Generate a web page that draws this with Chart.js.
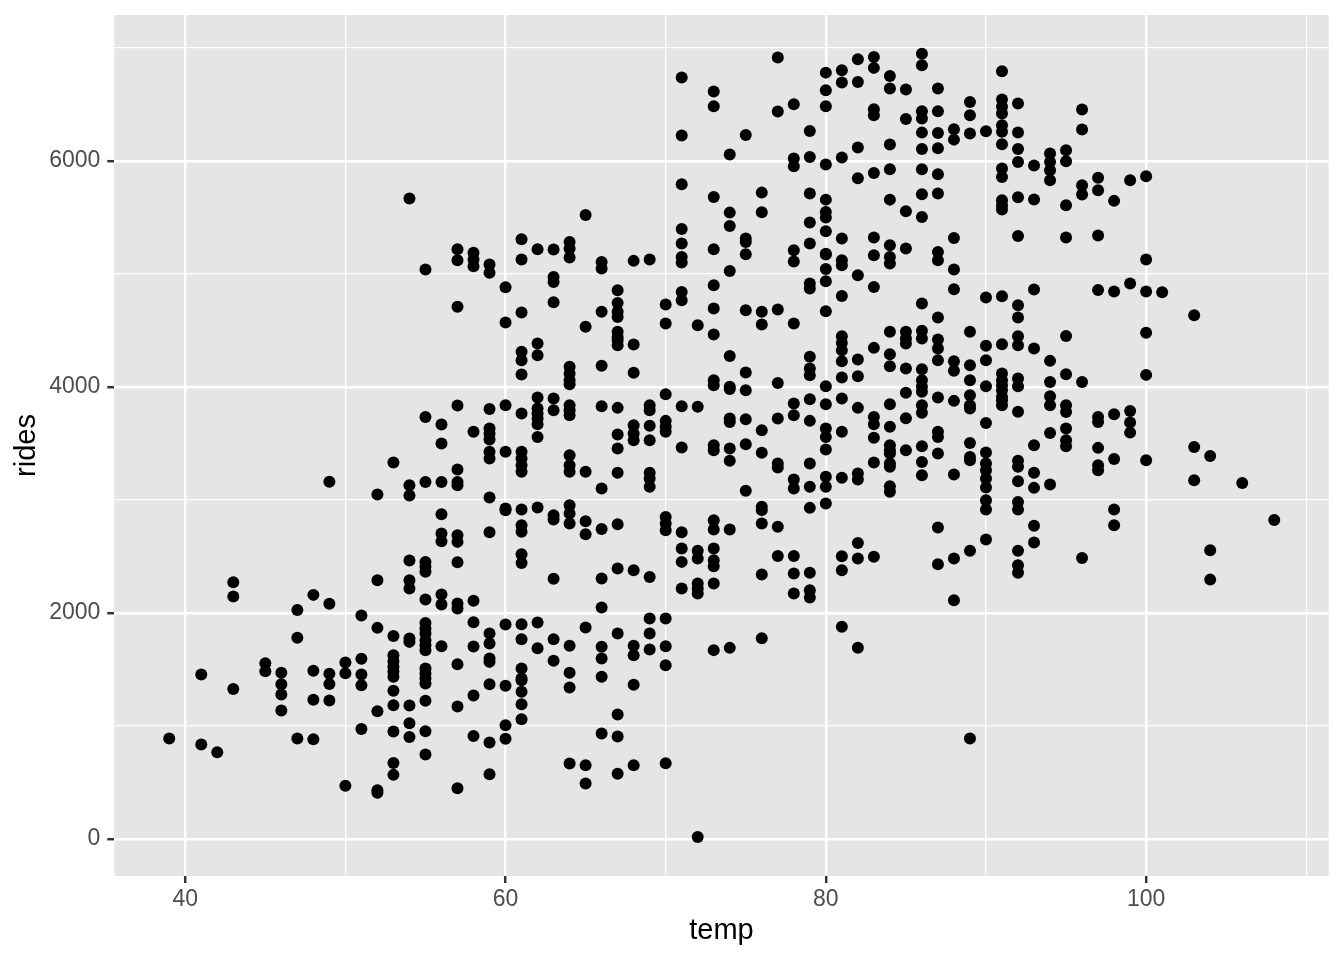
<!DOCTYPE html>
<html><head><meta charset="utf-8">
<style>html,body{margin:0;padding:0;background:#fff}canvas{display:block}</style>
<script src="https://cdn.jsdelivr.net/npm/chart.js@4"></script>
</head><body>
<div style="width:1344px;height:960px"><canvas id="c" width="1344" height="960"></canvas></div>
<script>
const xMajorTicks=[40,60,80,100];
const xMinorTicks=[50,70,90,110];
const yMajorTicks=[0,2000,4000,6000];
const yMinorTicks=[1000,3000,5000,7000];
const r39=[887];
const r41=[1453,834];
const r42=[766];
const r43=[2270,2143,1326];
const r45=[1553,1483];
const r46=[1468,1368,1276,1135];
const r47=[2025,1778,887];
const r48=[2158,1486,1229,881];
const r49=[3160,2079,1459,1370,1223];
const r50=[1559,1465,468];
const r51=[1975,1592,1453,1359,972];
const r52=[3046,2288,1866,1129,430,406];
const r53=[3330,1795,1624,1570,1521,1480,1433,1309,1182,949,671,565];
const r54=[5666,3129,3037,2462,2288,2214,1772,1742,1179,1022,901];
const r55=[5037,3733,3158,2450,2406,2362,2117,1910,1860,1816,1757,1713,1668,1506,1462,1418,1373,1220,952,745];
const r56=[3666,3497,3158,2872,2701,2633,2161,2073,1704];
const r57=[5217,5120,4707,3834,3267,3158,3129,2686,2627,2447,2081,2037,1545,1170,447];
const r58=[5185,5126,5067,3601,2105,1916,1701,1267,910];
const r59=[5082,5008,3804,3630,3586,3533,3424,3365,3020,2713,1816,1727,1595,1565,1368,851,571];
const r60=[4881,4568,3837,3424,2922,2907,1896,1353,1005,884];
const r61=[5306,5126,4657,4309,4235,4108,3763,3424,3365,3306,3247,2913,2775,2716,2518,2441,1899,1766,1506,1418,1403,1300,1191,1058];
const r62=[5217,4382,4279,3905,3807,3763,3719,3669,3556,2931,1913,1686];
const r63=[5214,4972,4928,4748,3896,3793,2863,2825,2300,1766,1574];
const r64=[5282,5223,5144,4176,4117,4058,4023,3837,3792,3748,3394,3306,3247,2952,2878,2789,1707,1468,1338,665];
const r65=[5521,4530,3247,2810,2695,1869,651,488];
const r66=[5105,5046,4663,4185,3828,3099,2742,2303,2046,1698,1595,1433,931];
const r67=[4854,4742,4663,4618,4486,4441,4412,4368,3813,3577,3453,3238,2784,2391,1816,1099,904,574];
const r68=[5114,4374,4123,3660,3586,3527,2376,1707,1624,1362,651];
const r69=[5126,3837,3792,3654,3527,3238,3188,3114,2317,1949,1816,1674];
const r70=[4728,4560,3934,3698,3645,3601,2848,2789,2730,1949,1704,1536,668];
const r71=[6736,6223,5792,5397,5267,5149,5099,4839,4765,3828,3462,2713,2568,2450,2214];
const r72=[4545,3822,2548,2480,2258,2214,2170,16];
const r73=[6612,6482,5680,5217,4899,4692,4462,4058,4014,3483,3438,2819,2736,2568,2465,2412,2258,1669];
const r74=[6055,5541,5423,5025,4273,4000,3980,3719,3689,3453,3344,2736,1689];
const r75=[6229,5311,5282,5173,4677,4126,3970,3713,3492,3079];
const r76=[5718,5544,4663,4551,3615,3415,2937,2908,2790,2338,1775];
const r77=[6913,6435,4683,4034,3719,3321,3285,2760,2503];
const r78=[6500,6019,5951,5208,5108,4559,3851,3748,3179,3099,2503,2347,2170];
const r79=[6264,6034,5710,5453,5267,4913,4869,4265,4161,4102,3890,3698,3321,3114,2928,2353,2199,2135];
const r80=[6780,6624,6482,5966,5656,5547,5497,5376,5178,5170,5043,4934,4668,4005,3846,3630,3556,3444,3203,3114,2966];
const r81=[6801,6692,6028,5311,5120,5075,4804,4447,4388,4323,4226,4082,3896,3601,3194,2500,2376,1875];
const r82=[6898,6698,6117,5845,4987,4241,4093,3813,3232,3179,2618,2480,1690];
const r83=[6919,6822,6456,6403,5892,5320,5164,4883,4344,3733,3669,3548,3329,2495];
const r84=[6751,6639,6143,5925,5656,5252,5149,5090,4486,4288,4182,3846,3645,3483,3438,3409,3321,3291,3120,3070];
const r85=[6630,6370,5553,5223,4486,4427,4382,4161,3946,3722,3438];
const r86=[6948,6845,6438,6373,6249,6105,5925,5704,5503,4736,4495,4427,4155,4058,3999,3955,3837,3769,3474,3335,3217];
const r87=[6639,6438,6246,6111,5881,5710,5193,5120,4613,4418,4338,4235,3905,3601,3556,3409,2754,2430];
const r88=[6279,6187,5317,5037,4863,4226,4141,3875,3223,2480,2111];
const r89=[6521,6403,6241,4486,4191,4058,3925,3837,3807,3503,3379,3350,2548,886];
const r90=[6262,4790,4362,4235,4005,3680,3418,3320,3262,3188,3108,2996,2913,2648];
const r91=[6793,6542,6477,6418,6315,6256,6147,5931,5857,5651,5607,5568,4801,4377,4117,4058,4014,3970,3910,3880,3836];
const r92=[6506,6250,6105,5990,5677,5335,4722,4613,4447,4368,4073,4005,3778,3344,3291,3164,2981,2913,2548,2421,2353];
const r93=[5958,5657,4860,4338,3483,3238,3105,2769,2621];
const r94=[6064,5990,5916,5828,4229,4043,3916,3836,3591,3134];
const r95=[6093,5996,5607,5321,4450,4111,3836,3777,3630,3527,3473];
const r96=[6453,6276,5784,5701,4043,2485];
const r97=[5849,5740,5338,4857,3733,3689,3459,3305,3261];
const r98=[5645,4843,3757,3361,2913,2774];
const r99=[5828,4914,3786,3683,3594];
const r100=[5863,5126,4843,4477,4105,3349];
const r101=[4837];
const r103=[4633,3467,3172];
const r104=[3388,2553,2293];
const r106=[3149];
const r108=[2821];
const temps=[39,41,42,43,45,46,47,48,49,50,51,52,53,54,55,56,57,58,59,60,61,62,63,64,65,66,67,68,69,70,71,72,73,74,75,76,77,78,79,80,81,82,83,84,85,86,87,88,89,90,91,92,93,94,95,96,97,98,99,100,101,103,104,106,108];
const ridesByTemp=[r39,r41,r42,r43,r45,r46,r47,r48,r49,r50,r51,r52,r53,r54,r55,r56,r57,r58,r59,r60,r61,r62,r63,r64,r65,r66,r67,r68,r69,r70,r71,r72,r73,r74,r75,r76,r77,r78,r79,r80,r81,r82,r83,r84,r85,r86,r87,r88,r89,r90,r91,r92,r93,r94,r95,r96,r97,r98,r99,r100,r101,r103,r104,r106,r108];
const points=temps.flatMap((t,i)=>ridesByTemp[i].map(v=>({x:t,y:v})));

const FONT='"Liberation Sans", Arial, sans-serif';
const panelBg={id:'panelBg',beforeDraw(ch){const a=ch.chartArea,c=ch.ctx;c.save();c.fillStyle='#E5E5E5';c.fillRect(a.left,a.top,a.right-a.left,a.bottom-a.top);c.restore();}};
function gridOpts(major){return {
  drawTicks:true,tickLength:7,
  color:'#FFFFFF',
  lineWidth:c=>major.includes(c.tick.value)?2.4:1.2,
  tickColor:c=>major.includes(c.tick.value)?'#333333':'rgba(0,0,0,0)',
  tickWidth:2.5
};}
new Chart(document.getElementById('c'),{
  type:'scatter',
  plugins:[panelBg],
  data:{datasets:[{data:points,backgroundColor:'#000',borderWidth:0,pointRadius:6,pointHoverRadius:6}]},
  options:{
    responsive:false,animation:false,
    layout:{padding:{top:15,right:15.3,left:0,bottom:0}},
    plugins:{legend:{display:false},tooltip:{enabled:false}},
    scales:{
      x:{type:'linear',min:35.57,max:111.4,
        border:{display:false},
        grid:gridOpts(xMajorTicks),
        afterBuildTicks(s){s.ticks=[...xMajorTicks,...xMinorTicks].sort((a,b)=>a-b).map(v=>({value:v}));},
        afterFit(s){s.height=84;s.paddingLeft=0;s.paddingRight=0;},
        ticks:{autoSkip:false,maxRotation:0,color:'#4D4D4D',font:{family:FONT,size:23},padding:3,
          callback:v=>xMajorTicks.includes(v)?String(v):''},
        title:{display:true,text:'temp',color:'#000',font:{family:FONT,size:29},padding:{top:0,bottom:12}}
      },
      y:{type:'linear',min:-330,max:7290,
        border:{display:false},
        grid:gridOpts(yMajorTicks),
        afterBuildTicks(s){s.ticks=[...yMajorTicks,...yMinorTicks].sort((a,b)=>a-b).map(v=>({value:v}));},
        afterFit(s){s.width=114.3;s.paddingTop=0;s.paddingBottom=0;},
        ticks:{autoSkip:false,color:'#4D4D4D',font:{family:FONT,size:23},padding:7,
          callback:v=>yMajorTicks.includes(v)?String(v):''},
        title:{display:true,text:'rides',color:'#000',font:{family:FONT,size:29},padding:{top:10,bottom:0}}
      }
    }
  }
});
</script>
</body></html>
